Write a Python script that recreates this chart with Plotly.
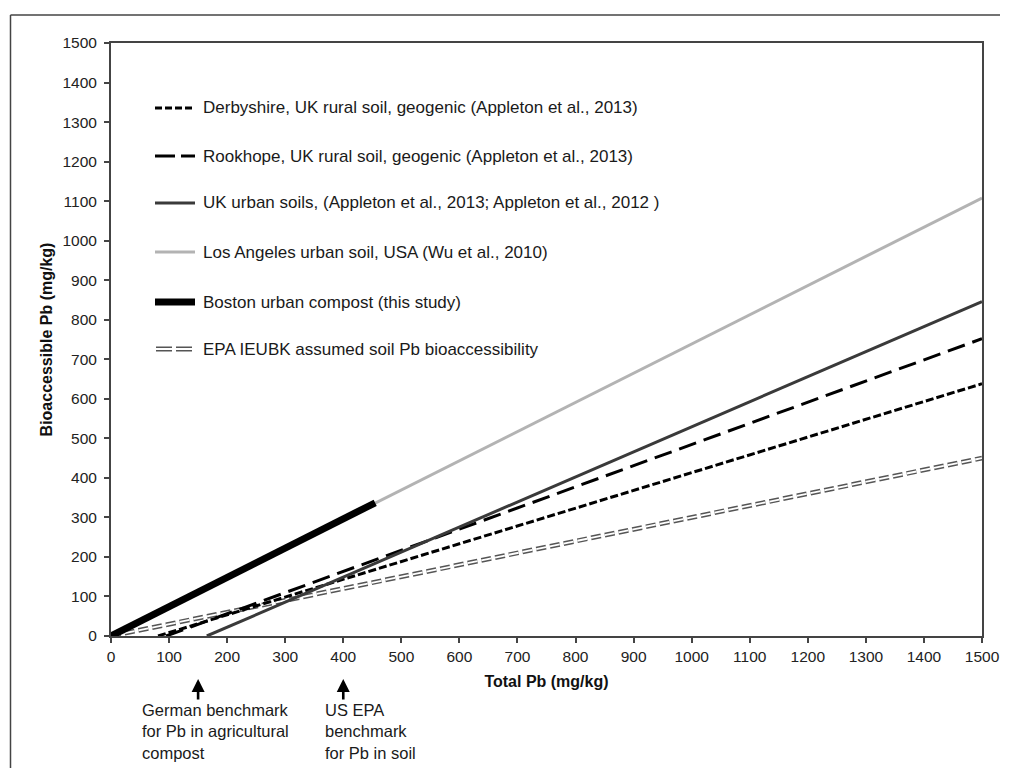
import plotly.graph_objects as go

# ---- data ----
derby_x = [81, 1500]
derby_y = [0, 638]
rook_x = [95, 1500]
rook_y = [0, 752]
uk_x = [165, 1500]
uk_y = [0, 846]
la_x = [0, 1500]
la_y = [0, 1108]
boston_x = [0, 455]
boston_y = [0, 337]
epa_x = [0, 1500]
epa_y = [0, 450]

x_ticks = list(range(0, 1501, 100))
y_ticks = list(range(0, 1501, 100))

legend_names = [
    "Derbyshire, UK rural soil, geogenic (Appleton et al., 2013)",
    "Rookhope, UK rural soil, geogenic (Appleton et al., 2013)",
    "UK urban soils, (Appleton et al., 2013; Appleton et al., 2012 )",
    "Los Angeles urban soil, USA (Wu et al., 2010)",
    "Boston urban compost (this study)",
    "EPA IEUBK assumed soil Pb bioaccessibility",
]

benchmarks_x = [150, 400]
benchmark_texts = [
    "German benchmark<br>for Pb in agricultural<br>compost",
    "US EPA<br>benchmark<br>for Pb in soil",
]
benchmark_text_x = [50, 365]

FONT = "Liberation Sans, Arial, sans-serif"
OFF = 8  # default body margin of the page
W, H = 1019 - 2 * OFF, 776 - 2 * OFF
# plot area in page pixels: x 111..982, y 43..636
L, T = 111 - OFF, 43 - OFF
R = W - L - (982 - 111)
B = H - T - (636 - 43)
PW, PH = W - L - R, H - T - B


def px_x(p):  # page pixel -> paper
    return (p - OFF - L) / PW


def px_y(p):
    return 1 - (p - OFF - T) / PH


fig = go.Figure()

EPA_DASH = "10px,4px"
fig.add_trace(go.Scatter(x=epa_x, y=epa_y, mode="lines",
                         line=dict(color="#555555", width=4.8, dash=EPA_DASH),
                         hoverinfo="skip", showlegend=False))
fig.add_trace(go.Scatter(x=epa_x, y=epa_y, mode="lines",
                         line=dict(color="white", width=1.8, dash=EPA_DASH),
                         hoverinfo="skip", showlegend=False))
fig.add_trace(go.Scatter(x=derby_x, y=derby_y, mode="lines",
                         line=dict(color="black", width=3, dash="8px,3px"),
                         showlegend=False))
fig.add_trace(go.Scatter(x=rook_x, y=rook_y, mode="lines",
                         line=dict(color="black", width=3, dash="18px,8px"),
                         showlegend=False))
fig.add_trace(go.Scatter(x=uk_x, y=uk_y, mode="lines",
                         line=dict(color="#3a3a3a", width=3),
                         showlegend=False))
fig.add_trace(go.Scatter(x=la_x, y=la_y, mode="lines",
                         line=dict(color="#b3b3b3", width=3),
                         showlegend=False))
fig.add_trace(go.Scatter(x=boston_x, y=boston_y, mode="lines",
                         line=dict(color="black", width=7),
                         showlegend=False))

shapes = []
annotations = []

# outer frame: only the top and left edges are inside the picture
frame = dict(color="#444444", width=1.5)
shapes.append(dict(type="line", xref="paper", yref="paper",
                   x0=px_x(10.5), x1=px_x(1000), y0=px_y(15), y1=px_y(15),
                   line=frame, layer="below"))
shapes.append(dict(type="line", xref="paper", yref="paper",
                   x0=px_x(10.5), x1=px_x(10.5), y0=px_y(15), y1=px_y(800),
                   line=frame, layer="below"))

# manual legend
leg_y = [108, 156, 203, 252, 302, 349]
leg_styles = [
    dict(color="black", width=3, dash="7px,3px"),
    dict(color="black", width=3, dash="20px,6px"),
    dict(color="#3a3a3a", width=3),
    dict(color="#b3b3b3", width=3),
    dict(color="black", width=7),
]
for i, name in enumerate(legend_names):
    yy = px_y(leg_y[i])
    if i < 5:
        shapes.append(dict(type="line", xref="paper", yref="paper",
                           x0=px_x(155), x1=px_x(195), y0=yy, y1=yy,
                           line=leg_styles[i]))
    else:
        for off in (-1.7, 1.7):
            y2 = px_y(leg_y[i] + off)
            shapes.append(dict(type="line", xref="paper", yref="paper",
                               x0=px_x(156), x1=px_x(194), y0=y2, y1=y2,
                               line=dict(color="#555555", width=1.4, dash="16px,4px")))
    annotations.append(dict(x=px_x(201), y=yy, xref="paper", yref="paper",
                            text=name, showarrow=False, xanchor="left", yanchor="middle",
                            font=dict(family=FONT, size=17, color="#1a1a1a")))

# benchmark arrows and texts
for bx, txt, tx in zip(benchmarks_x, benchmark_texts, benchmark_text_x):
    annotations.append(dict(x=bx, y=px_y(679), xref="x", yref="paper",
                            ax=0, ay=22, axref="pixel", ayref="pixel",
                            text="", showarrow=True, arrowhead=2, arrowsize=1,
                            arrowwidth=2.6, arrowcolor="black"))
    annotations.append(dict(x=tx, y=px_y(699), xref="x", yref="paper",
                            text=txt, showarrow=False, xanchor="left", yanchor="top",
                            align="left",
                            font=dict(family=FONT, size=16.5, color="#1a1a1a")))

fig.update_layout(
    width=W, height=H,
    margin=dict(l=L, r=R, t=T, b=B, pad=0),
    paper_bgcolor="white", plot_bgcolor="white",
    font=dict(family=FONT, size=15, color="#222222"),
    shapes=shapes, annotations=annotations,
    showlegend=False,
)
fig.update_xaxes(range=[0, 1500], tickvals=x_ticks, ticks="outside", ticklen=5,
                 tickwidth=1.5, tickcolor="#444444", showline=True, linecolor="#444444",
                 linewidth=2, mirror=True, showgrid=False, zeroline=False,
                 ticklabelstandoff=0,
                 tickfont=dict(family=FONT, size=15.5, color="#222222"),
                 title=dict(text="<b>Total Pb (mg/kg)</b>", standoff=12,
                            font=dict(family=FONT, size=16, color="#111111")))
fig.update_yaxes(range=[0, 1500], tickvals=y_ticks, ticks="outside", ticklen=5,
                 tickwidth=1.5, tickcolor="#444444", showline=True, linecolor="#444444",
                 linewidth=2, mirror=True, showgrid=False, zeroline=False,
                 ticklabelstandoff=4,
                 tickfont=dict(family=FONT, size=15.5, color="#222222"),
                 title=dict(text="<b>Bioaccessible Pb (mg/kg)</b>", standoff=6,
                            font=dict(family=FONT, size=16, color="#111111")))

fig.write_html("out.html")
